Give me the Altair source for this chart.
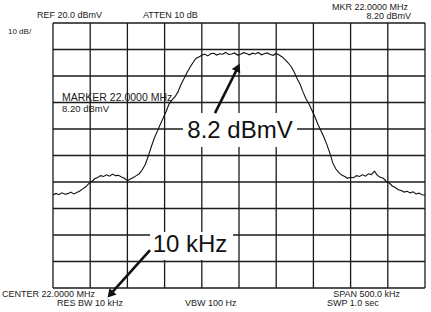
import altair as alt
import pandas as pd

# ---- instrument settings (from the screen) ----
CENTER_MHZ = 22.0
SPAN_MHZ = 0.5
REF_DBMV = 20.0
DB_PER_DIV = 10.0
N_DIV = 10

# ---- trace samples (dBmV), one every 4 kHz ----
trace_dbmv = [
    -44.9, -44.3, -44.8, -44.1, -44.6, -44.4, -43.8, -44.5, -44.0, -43.4,
    -42.6, -41.8, -40.6, -39.9, -38.8, -38.3, -37.6, -37.9, -37.3, -37.8,
    -37.0, -37.6, -37.5, -38.1, -38.6, -39.5, -38.9, -38.3, -37.6, -36.9,
    -35.4, -33.4, -30.3, -26.8, -23.6, -21.0, -18.4, -15.9, -13.4, -10.6,
    -9.0, -7.8, -6.0, -3.2, -1.0, 1.2, 3.2, 5.0, 6.6, 7.2,
    7.8, 8.3, 7.6, 8.4, 8.6, 7.9, 8.4, 8.2, 8.9, 8.1,
    8.3, 8.7, 7.9, 8.2, 8.8, 8.5, 8.0, 8.6, 8.3, 8.9,
    8.0, 8.4, 8.7, 8.1, 7.8, 8.5, 7.9, 7.2, 6.2, 5.0,
    3.6, 1.6, -0.9, -3.0, -6.0, -8.6, -10.6, -12.9, -15.4, -18.2,
    -20.6, -23.0, -25.8, -29.0, -32.8, -35.0, -36.4, -37.4, -37.9, -38.6,
    -38.2, -38.4, -37.6, -37.9, -37.3, -37.8, -36.9, -37.2, -35.9, -37.5,
    -38.2, -38.6, -39.8, -40.4, -41.5, -42.1, -42.9, -43.2, -43.8, -43.5,
    -44.1, -43.7, -44.5, -44.2, -44.8, -45.0,
]
STEP_MHZ = 0.004

f_start = CENTER_MHZ - SPAN_MHZ / 2
f_stop = CENTER_MHZ + SPAN_MHZ / 2
db_bottom = REF_DBMV - DB_PER_DIV * N_DIV

trace = pd.DataFrame({
    "f": [f_start + i * STEP_MHZ for i in range(len(trace_dbmv))],
    "db": trace_dbmv,
})

x_grid = [f_start + i * SPAN_MHZ / N_DIV for i in range(N_DIV + 1)]
y_grid = [db_bottom + i * DB_PER_DIV for i in range(N_DIV + 1)]

# ---- screen texts ----
small_texts = ["REF 20.0 dBmV", "ATTEN 10 dB", "MKR 22.0000 MHz", "8.20 dBmV", "10 dB/",
               "CENTER 22.0000 MHz", "RES BW 10 kHz", "VBW 100 Hz", "SPAN 500.0 kHz", "SWP 1.0 sec",
               "MARKER  22.0000 MHz", "8.20 dBmV"]
small_f = [21.7285, 21.871, 22.2272, 22.2312, 21.6895,
           21.6814, 21.7554, 21.9274, 22.2164, 22.1183,
           21.7621, 21.7621]
small_db = [23.0, 23.0, 26.0, 22.6, 16.6,
            -82.3, -85.7, -85.7, -82.3, -85.7,
            -8.2, -12.6]
small_align = ["left", "left", "right", "right", "left",
               "left", "left", "left", "right", "left",
               "left", "left"]
small_size = [9, 9, 9, 9, 8, 9, 9, 9, 9, 9, 10.5, 9.5]

big_texts = ["8.2 dBmV", "10 kHz"]
big_f = [22.0013, 21.9341]
big_db = [-20.8, -63.8]
box_f1 = [21.9247, 21.8804]
box_f2 = [22.0780, 21.9920]
box_db1 = [-14.0, -58.9]
box_db2 = [-26.8, -69.4]

arrow_f1 = [21.9677, 21.8804]
arrow_db1 = [-14.0, -65.7]
arrow_f2 = [21.9984, 21.8270]
arrow_db2 = [3.2, -82.4]
arrow_angle = [26.6, 221.9]

FONT = "Liberation Sans"

xscale = alt.Scale(domain=[f_start, f_stop], nice=False, zero=False)
yscale = alt.Scale(domain=[db_bottom, REF_DBMV], nice=False, zero=False)
X = lambda c: alt.X(c, type="quantitative", scale=xscale, axis=None)
Y = lambda c: alt.Y(c, type="quantitative", scale=yscale, axis=None)

vgrid = alt.Chart(pd.DataFrame({"f": x_grid})).mark_rule(color="#1a1a1a", strokeWidth=1.3).encode(
    x=X("f"))
hgrid = alt.Chart(pd.DataFrame({"db": y_grid})).mark_rule(color="#1a1a1a", strokeWidth=1.3).encode(
    y=Y("db"))

line = alt.Chart(trace).mark_line(color="#111", strokeWidth=1.1).encode(x=X("f"), y=Y("db"))

small_df = pd.DataFrame({"t": small_texts, "f": small_f, "db": small_db,
                         "a": small_align, "s": small_size})
text_layers = []
for al in ["left", "right"]:
    for sz in sorted(set(small_size)):
        sub = small_df[(small_df.a == al) & (small_df.s == sz)]
        if len(sub) == 0:
            continue
        text_layers.append(
            alt.Chart(sub).mark_text(align=al, baseline="middle", font=FONT, fontSize=sz,
                                     color="#1a1a1a").encode(x=X("f"), y=Y("db"), text="t:N")
        )

box_df = pd.DataFrame({"f1": box_f1, "f2": box_f2, "d1": box_db1, "d2": box_db2})
boxes = alt.Chart(box_df).mark_rect(color="white").encode(
    x=X("f1"), x2="f2:Q", y=Y("d1"), y2="d2:Q")

big_df = pd.DataFrame({"t": big_texts, "f": big_f, "db": big_db})
big = alt.Chart(big_df).mark_text(align="center", baseline="middle", font=FONT, fontSize=24,
                                  color="#111").encode(x=X("f"), y=Y("db"), text="t:N")

arr_df = pd.DataFrame({"f1": arrow_f1, "f2": arrow_f2, "d1": arrow_db1, "d2": arrow_db2,
                       "ang": arrow_angle})
shafts = alt.Chart(arr_df).mark_rule(color="#111", strokeWidth=2.6).encode(
    x=X("f1"), x2="f2:Q", y=Y("d1"), y2="d2:Q")
heads = alt.Chart(arr_df).mark_point(shape="triangle-up", filled=True, color="#111",
                                     size=90, opacity=1).encode(
    x=X("f2"), y=Y("d2"), angle=alt.Angle("ang:Q", scale=None))

chart = alt.layer(vgrid, hgrid, line, boxes, big, shafts, heads, *text_layers).properties(
    width=372, height=265,
    padding={"left": 53, "top": 23, "right": 6, "bottom": 24},
    autosize=alt.AutoSizeParams(type="none"),
    background="white",
).configure_view(stroke=None)

chart.save("out.html", embed_options={"renderer": "svg", "actions": False})
